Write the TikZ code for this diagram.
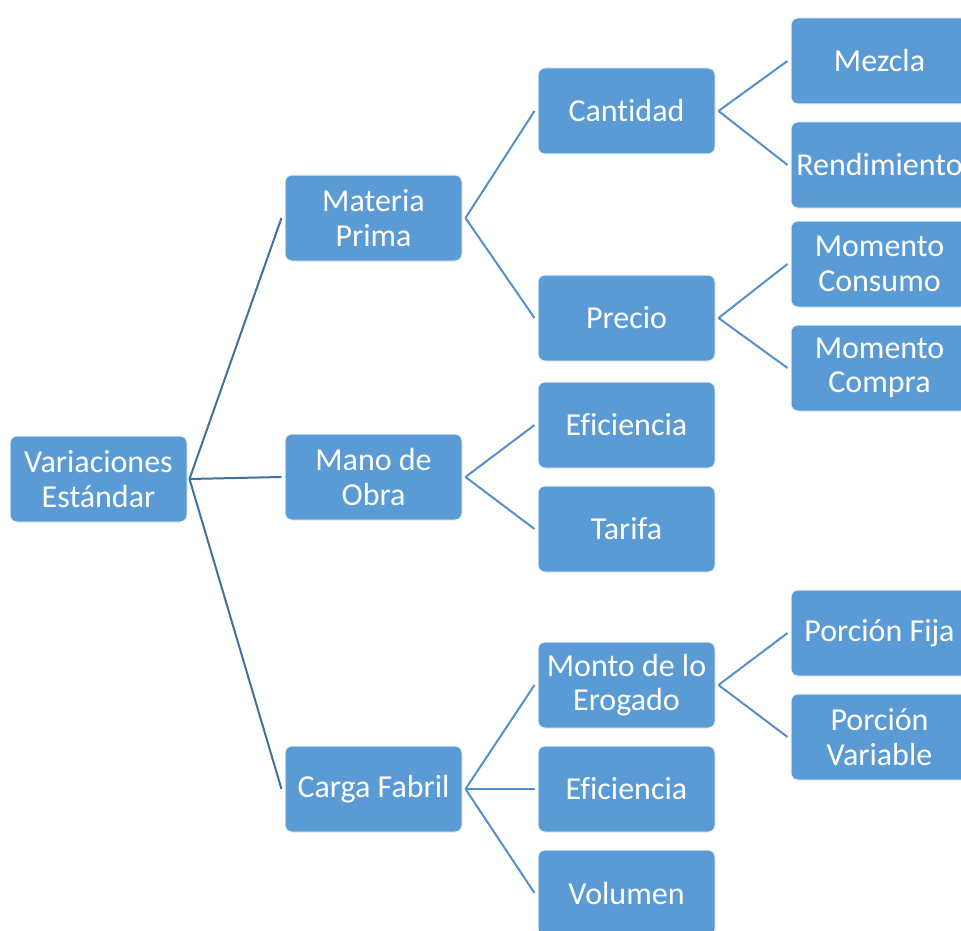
\documentclass[tikz,border=0pt]{standalone}
\usepackage{fontspec}
\setmainfont{Carlito}[Ligatures=NoCommon]
\definecolor{boxblue}{HTML}{5B9BD5}
\definecolor{rootline}{HTML}{41719C}
\definecolor{subline}{HTML}{5590CC}
\begin{document}
\begin{tikzpicture}[x=1pt,y=-1pt,
  cbox/.style={draw=white!85!boxblue, line width=1pt, fill=boxblue, rounded corners=7pt,
    minimum width=177pt, minimum height=86pt, inner sep=0pt, text=white, align=center,
    font=\fontsize{32}{34.5}\selectfont},
  rootconn/.style={draw=rootline, line width=2pt},
  subconn/.style={draw=subline, line width=2pt}]
\useasboundingbox (0,0) rectangle (961,931);
\clip (0,0) rectangle (961,931);
\fill[white] (0,0) rectangle (961,931);
% root
\node[cbox] (root) at (98.5,479) {Variaciones\\Estándar};
% level 1
\node[cbox] (mp) at (373.5,218) {Materia\\Prima};
\node[cbox] (mo) at (373.5,477) {Mano de\\Obra};
\node[cbox] (cf) at (373.5,789) {Carga Fabril};
% level 2
\node[cbox] (cant) at (626.5,111) {Cantidad};
\node[cbox] (prec) at (626.5,318) {Precio};
\node[cbox] (efi1) at (626.5,425) {Eficiencia};
\node[cbox] (tar) at (626.5,529) {Tarifa};
\node[cbox] (mont) at (626.5,685) {Monto de lo\\Erogado};
\node[cbox] (efi2) at (626.5,789) {Eficiencia};
\node[cbox] (vol) at (626.5,893) {Volumen};
% level 3
\node[cbox] (mez) at (879.5,61) {Mezcla};
\node[cbox] (rend) at (879.5,165) {Rendimiento};
\node[cbox] (mcon) at (879.5,264) {Momento\\Consumo};
\node[cbox] (mcom) at (879.5,368) {Momento\\Compra};
\node[cbox] (pfij) at (879.5,633) {Porción Fija};
\node[cbox] (pvar) at (879.5,737) {Porción\\Variable};
% connectors
\foreach \c in {mp,mo,cf}
  \draw[rootconn] ([xshift=2pt]root.east) -- ([xshift=-3pt]\c.west);
\foreach \p/\c in {mp/cant,mp/prec,mo/efi1,mo/tar,cf/mont,cf/efi2,cf/vol,
                   cant/mez,cant/rend,prec/mcon,prec/mcom,mont/pfij,mont/pvar}
  \draw[subconn] ([xshift=3pt]\p.east) -- ([xshift=-3pt]\c.west);
\end{tikzpicture}
\end{document}
